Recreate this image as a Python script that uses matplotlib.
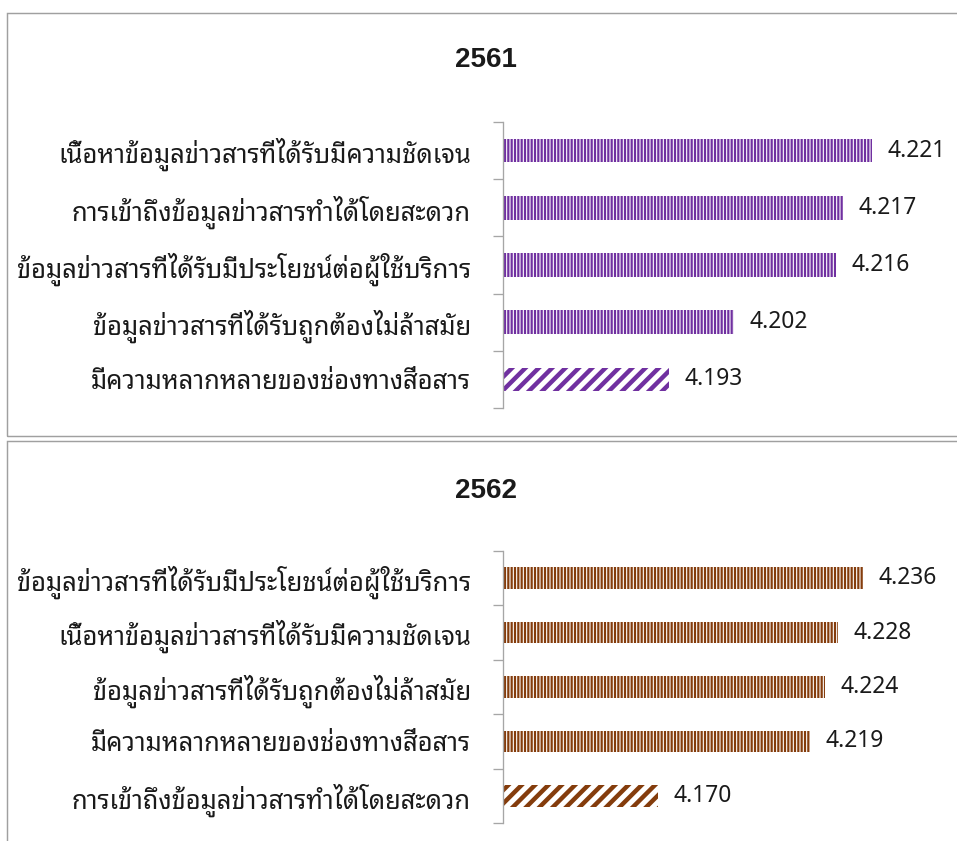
import matplotlib
matplotlib.use("Agg")
import matplotlib.pyplot as plt
from matplotlib.patches import Rectangle

plt.rcParams["font.family"] = ["Noto Sans Thai Looped", "DejaVu Sans"]

# data
labels_2561 = [
    "เนื้อหาข้อมูลข่าวสารที่ได้รับมีความชัดเจน",
    "การเข้าถึงข้อมูลข่าวสารทำได้โดยสะดวก",
    "ข้อมูลข่าวสารที่ได้รับมีประโยชน์ต่อผู้ใช้บริการ",
    "ข้อมูลข่าวสารที่ได้รับถูกต้องไม่ล้าสมัย",
    "มีความหลากหลายของช่องทางสื่อสาร",
]
values_2561 = [4.221, 4.217, 4.216, 4.202, 4.193]

labels_2562 = [
    "ข้อมูลข่าวสารที่ได้รับมีประโยชน์ต่อผู้ใช้บริการ",
    "เนื้อหาข้อมูลข่าวสารที่ได้รับมีความชัดเจน",
    "ข้อมูลข่าวสารที่ได้รับถูกต้องไม่ล้าสมัย",
    "มีความหลากหลายของช่องทางสื่อสาร",
    "การเข้าถึงข้อมูลข่าวสารทำได้โดยสะดวก",
]
values_2562 = [4.236, 4.228, 4.224, 4.219, 4.170]

W, H, DPI = 957, 841, 80
AXIS_GRAY = "#A6A6A6"
TEXT = "#1a1a1a"


def draw_panel(ax, title, title_y, labels, values, color, xlim, bar_h):
    n = len(values)
    ys = list(range(n))
    bars = ax.barh(ys, values, height=bar_h, left=0, color="white",
                   edgecolor=color, linewidth=0)
    for i, b in enumerate(bars):
        # last (lowest) bar gets the wide diagonal pattern
        b.set_hatch("//" if i == n - 1 else "||||")
        if hasattr(b, "set_hatch_linewidth"):
            b.set_hatch_linewidth(4.0 if i == n - 1 else 2.0)
    for y, v in zip(ys, values):
        ax.annotate(f"{v:.3f}", (v, y), xytext=(14, 0), textcoords="offset points",
                    ha="left", va="center", fontsize=20.5, color=TEXT)
    ax.set_xlim(*xlim)
    ax.set_ylim(n - 0.5, -0.5)
    ax.set_xticks([])
    ax.set_yticks([i - 0.5 for i in range(n + 1)])
    ax.set_yticklabels([])
    ax.set_yticks(ys, labels, minor=True)
    ax.tick_params(axis="y", which="major", length=9, width=1.2, color=AXIS_GRAY)
    ax.tick_params(axis="y", which="minor", length=0, pad=29, labelsize=23,
                   labelcolor=TEXT)
    for s in ["top", "right", "bottom"]:
        ax.spines[s].set_visible(False)
    ax.spines["left"].set_color(AXIS_GRAY)
    ax.spines["left"].set_linewidth(1.2)
    ax.patch.set_alpha(0)
    fig.text(0.508, title_y, title, ha="center", va="center",
             family=["Liberation Sans", "DejaVu Sans"],
             fontsize=25, fontweight="bold", color=TEXT)


fig = plt.figure(figsize=(W / DPI, H / DPI), dpi=DPI)

# panel frames
fig.patches.append(Rectangle((7 / W, 1 - 436 / H), 1.0, 423 / H, transform=fig.transFigure,
                             fill=False, edgecolor="#A0A0A0", linewidth=1.3))
fig.patches.append(Rectangle((7 / W, -0.05), 1.0, 1 - 441 / H + 0.05, transform=fig.transFigure,
                             fill=False, edgecolor="#A0A0A0", linewidth=1.3))

ax1 = fig.add_axes([503 / W, 1 - 408 / H, 437 / W, 286 / H])
draw_panel(ax1, "2561", 1 - 60 / H, labels_2561, values_2561, "#7030A0",
           (4.17, 4.17 + 437 / 7229), 0.41)

ax2 = fig.add_axes([503 / W, 1 - 823 / H, 437 / W, 272 / H])
draw_panel(ax2, "2562", 1 - 491 / H, labels_2562, values_2562, "#843C0C",
           (4.12, 4.12 + 437 / 3100), 0.40)

fig.savefig("out.png", dpi=DPI)
